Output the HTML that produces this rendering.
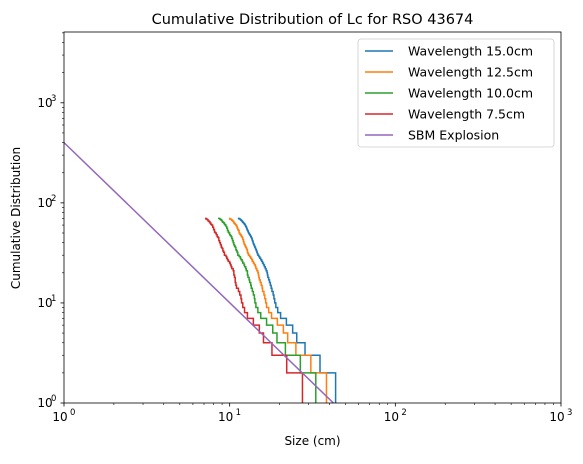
<!DOCTYPE html>
<html><head><meta charset="utf-8"><style>
body{margin:0;background:#fff;font-family:"Liberation Sans","DejaVu Sans",sans-serif}
svg text{font-family:"DejaVu Sans","Liberation Sans",sans-serif}
</style></head><body>
<svg id="c" width="583" height="459"></svg>
<script>
const seriesLabels=["Wavelength 15.0cm","Wavelength 12.5cm","Wavelength 10.0cm","Wavelength 7.5cm"];
const seriesColors=["#1f77b4","#ff7f0e","#2ca02c","#d62728"];
const sizes15=[43.6,35.1,28.5,25.4,24.0,22,20.3,19.5,19,18.7,18.5,18.3,18.0,17.8,17.6,17.4,17.2,17.0,16.9,16.8,16.6,16.4,16.2,16.0,15.8,15.6,15.4,15.2,15.0,14.8,14.7,14.6,14.5,14.4,14.3,14.2,14.1,14.0,13.9,13.85,13.8,13.7,13.65,13.6,13.5,13.4,13.3,13.2,13.1,13.0,12.95,12.9,12.8,12.75,12.7,12.65,12.6,12.5,12.45,12.4,12.3,12.2,12.1,12.0,11.9,11.8,11.7,11.6,11.4,11.2];
const sizes125=[38.4,30.9,25.1,22.4,21.1,19.4,17.9,17.2,16.7,16.5,16.3,16.1,15.8,15.7,15.5,15.3,15.1,15.0,14.9,14.8,14.6,14.4,14.3,14.1,13.9,13.7,13.6,13.4,13.2,13.0,12.9,12.8,12.8,12.7,12.6,12.5,12.4,12.3,12.2,12.2,12.1,12.1,12.0,12.0,11.9,11.8,11.7,11.6,11.5,11.4,11.4,11.4,11.3,11.2,11.2,11.1,11.1,11.0,11.0,10.9,10.8,10.7,10.6,10.6,10.5,10.4,10.3,10.2,10.0,9.9];
const sizes10=[33.1,26.7,21.7,19.3,18.2,16.7,15.4,14.8,14.4,14.2,14.1,13.9,13.7,13.5,13.4,13.2,13.1,12.9,12.8,12.8,12.6,12.5,12.3,12.2,12.0,11.9,11.7,11.6,11.4,11.2,11.2,11.1,11.0,10.9,10.9,10.8,10.7,10.6,10.6,10.5,10.5,10.4,10.4,10.3,10.3,10.2,10.1,10.0,10.0,9.9,9.8,9.8,9.7,9.7,9.7,9.6,9.6,9.5,9.5,9.4,9.3,9.3,9.2,9.1,9.0,9.0,8.9,8.8,8.7,8.5];
const sizes75=[27.5,22.1,18.0,16.0,15.1,13.9,12.8,12.3,12.0,11.8,11.7,11.5,11.3,11.0,10.9,10.8,10.8,10.7,10.6,10.6,10.5,10.3,10.2,10.1,10.0,9.8,9.7,9.6,9.5,9.3,9.3,9.2,9.1,9.1,9.0,8.9,8.9,8.8,8.8,8.7,8.7,8.6,8.6,8.6,8.5,8.4,8.4,8.3,8.3,8.2,8.1,8.1,8.1,8.0,8.0,8.0,7.9,7.9,7.9,7.8,7.7,7.7,7.6,7.6,7.5,7.4,7.4,7.3,7.2,7.1];
const allSizes=[sizes15,sizes125,sizes10,sizes75];
const sbmCoef=400, sbmExp=-1.6;
const xTickVals=[1,10,100,1000];
const xTickLabels=["0","1","2","3"];
const yTickVals=[1,10,100,1000];
const yTickLabels=["0","1","2","3"];

const NS="http://www.w3.org/2000/svg";
const svg=document.getElementById('c');
const L=64,R=561,T=32,B=403;
const xMin=0,xMax=3,yMin=0,yMax=Math.log10(5100);
const X=v=>L+(Math.log10(v)-xMin)/(xMax-xMin)*(R-L);
const Y=v=>B-(Math.log10(v)-yMin)/(yMax-yMin)*(B-T);
function mk(t,a,p){const e=document.createElementNS(NS,t);for(const k in a)e.setAttribute(k,a[k]);(p||svg).appendChild(e);return e;}
const defs=mk('defs',{});const cp=mk('clipPath',{id:'clip'},defs);mk('rect',{x:L,y:T,width:R-L,height:B-T},cp);
const plot=mk('g',{'clip-path':'url(#clip)'});


// series
allSizes.forEach((arr,si)=>{
  const s=arr.slice().sort((a,b)=>a-b);const n=s.length;
  let d='';
  for(let i=0;i<n;i++){const y=n-i;const x=s[i];
    if(i===0)d+='M'+X(x)+','+Y(y);else d+='L'+X(x)+','+Y(n-i+1)+'L'+X(x)+','+Y(y);}
  d+='L'+X(s[n-1])+','+(B+5);
  const p=mk('path',{d:d,fill:'none',stroke:seriesColors[si],'stroke-width':1.5},plot);
  
  
});
const xEnd=Math.pow(1/sbmCoef,1/sbmExp);
const sb=mk('line',{x1:X(1),y1:Y(sbmCoef),x2:X(xEnd),y2:Y(1),stroke:'#9467bd','stroke-width':1.5},plot);


// frame
const fr=mk('rect',{x:L,y:T,width:R-L,height:B-T,fill:'none',stroke:'#000','stroke-width':0.8});


// ticks
for(let dd=0;dd<3;dd++)for(let m=2;m<10;m++){const v=m*Math.pow(10,dd);mk('line',{x1:X(v),x2:X(v),y1:B,y2:B+2,stroke:'#000','stroke-width':0.6});}
for(let dd=0;dd<4;dd++)for(let m=2;m<10;m++){const v=m*Math.pow(10,dd);if(v>5100)break;mk('line',{x1:L,x2:L-2,y1:Y(v),y2:Y(v),stroke:'#000','stroke-width':0.6});}
xTickVals.forEach((v,i)=>{const x=X(v);mk('line',{x1:x,x2:x,y1:B,y2:B+3.5,stroke:'#000','stroke-width':0.8});
  const t=mk('text',{x:x-4,y:B+18,'font-size':12,'text-anchor':'middle'});t.textContent='10';
  
  const s=mk('text',{x:x+6,y:B+12,'font-size':8.5});s.textContent=xTickLabels[i];});
yTickVals.forEach((v,i)=>{const y=Y(v);mk('line',{x1:L,x2:L-3.5,y1:y,y2:y,stroke:'#000','stroke-width':0.8});
  const t=mk('text',{x:L-19,y:y+4,'font-size':12,'text-anchor':'middle'});t.textContent='10';
  
  const s=mk('text',{x:L-13,y:y-2,'font-size':8.5});s.textContent=yTickLabels[i];});
const ti=mk('text',{x:(L+R)/2,y:24,'font-size':14.5,'text-anchor':'middle'});ti.textContent='Cumulative Distribution of Lc for RSO 43674';

const xl=mk('text',{x:(L+R)/2,y:445,'font-size':12,'text-anchor':'middle'});xl.textContent='Size (cm)';

const yl=mk('text',{x:0,y:0,'font-size':12,'text-anchor':'middle',transform:'translate(20,218) rotate(-90)'});yl.textContent='Cumulative Distribution';

// legend
const lg=mk('g',{});


mk('rect',{x:358,y:39,width:196,height:108,rx:3,fill:'#fff','fill-opacity':0.8,stroke:'#ccc','stroke-width':0.8},lg);
const legLabels=seriesLabels.concat(["SBM Explosion"]);const legColors=seriesColors.concat(["#9467bd"]);
legLabels.forEach((lab,i)=>{const y=51+i*21;
  const e=mk('g',{},lg);
  mk('line',{x1:365,x2:393,y1:y,y2:y,stroke:legColors[i],'stroke-width':1.5},e);
  const t=mk('text',{x:408,y:y+4.5,'font-size':12.5},e);t.textContent=lab;});
</script>
</body></html>
